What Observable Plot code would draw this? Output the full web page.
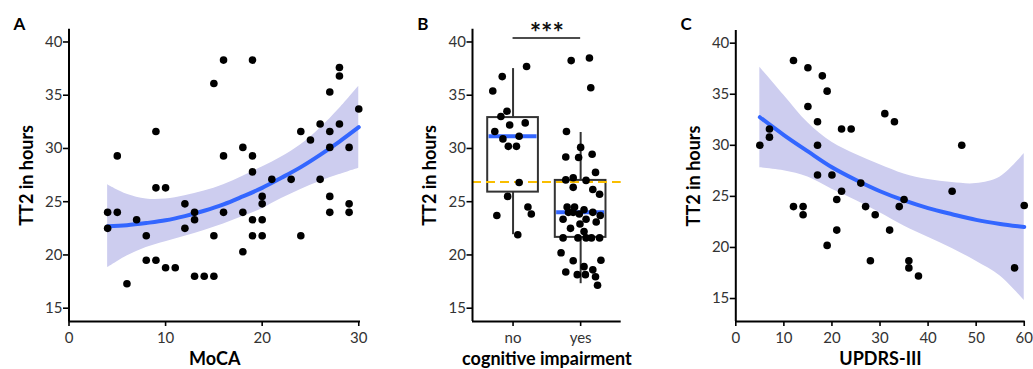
<!DOCTYPE html>
<html><head><meta charset="utf-8">
<script src="https://cdn.jsdelivr.net/npm/d3@7"></script>
<script src="https://cdn.jsdelivr.net/npm/@observablehq/plot@0.6"></script>
<style>
html,body{margin:0;padding:0;background:#fff;}
#wrap{position:relative;width:1033px;height:369px;overflow:hidden;background:#fff;}
#wrap svg{position:absolute;top:0;}
</style></head><body><div id="wrap"></div>
<script>
// ---------- Panel A: MoCA vs TT2 ----------
const mocaScore = [5,9,9,10,15,16,19,16,18,19,19,21,23,24,25,26,26,27,27,27,28,28,28,29,30,
  4,4,5,6,7,8,8,9,10,11,12,12,13,13,13,14,15,15,16,18,18,19,19,20,20,20,20,24,27,27,29,29];
const mocaTT2 = [29.3,31.6,26.3,26.3,36.1,38.3,38.3,29.3,30.1,29.3,27.8,27.1,27.1,31.6,30.8,32.3,27.1,35.3,31.6,30.1,37.6,36.8,32.3,30.1,33.7,
  24.0,22.5,24.0,17.3,23.3,21.8,19.5,19.5,18.8,18.8,24.8,22.5,24.0,23.3,18.0,18.0,18.0,21.8,24.0,24.0,20.3,23.3,21.8,25.5,24.8,23.3,21.8,21.8,25.5,24.0,24.8,24.0];
const fitAx  = [4,6,8,10,12,14,16,18,20,22,24,26,28,30];
const fitAy  = [22.7,22.8,23.0,23.25,23.65,24.15,24.75,25.5,26.3,27.25,28.25,29.4,30.65,32.0];
const fitAlo = [18.8,19.9,20.7,21.25,21.75,22.3,22.9,23.6,24.35,25.3,26.15,26.9,27.55,28.15];
const fitAhi = [26.6,25.7,25.25,25.25,25.55,26.0,26.6,27.4,28.25,29.2,30.35,31.9,33.75,35.85];

// ---------- Panel B: cognitive impairment ----------
const groups = ["no","yes"];
const boxQ1 = [25.9, 21.65];
const boxMed = [31.15, 24.0];
const boxQ3 = [32.9, 27.0];
const whiskLo = [21.9, 17.3];
const whiskHi = [37.5, 31.5];
const refLine = 26.85;
const sigLabel = "***";
const sigY = 40.38;
const noTT2 = [37.7,36.75,35.4,33.5,33.0,32.2,32.4,31.6,30.9,31.15,30.2,30.2,26.8,25.5,24.5,23.85,23.7,21.9];
const noJitter = [0.20,-0.16,-0.30,-0.09,-0.18,-0.05,0.18,-0.27,-0.15,0.09,-0.07,0.05,0.09,-0.08,0.22,0.27,-0.24,0.07];
const yesTT2 = [38.25,38.5,35.7,31.6,30.1,29.2,29.15,29.45,27.75,27.25,27.05,27.0,26.35,26.15,25.7,24.5,24.5,24.25,24.0,24.0,24.0,23.85,23.7,23.35,23.35,23.1,22.9,22.5,22.2,21.6,21.6,21.6,21.6,21.6,20.2,19.45,19.5,18.9,18.4,18.15,18.15,18.6,17.95,17.15];
const yesJitter = [-0.14,0.13,0.15,-0.21,0.00,-0.22,-0.03,0.17,0.22,-0.11,-0.22,0.08,-0.11,0.18,0.28,-0.20,-0.09,0.05,0.18,-0.18,-0.11,-0.02,0.29,-0.26,0.08,0.23,-0.01,-0.15,0.05,-0.26,-0.04,0.08,0.16,0.28,-0.29,-0.11,0.30,0.05,-0.22,-0.05,0.07,0.18,0.22,0.25];

// ---------- Panel C: UPDRS-III vs TT2 ----------
const updrs = [5,7,7,12,15,15,18,19,17,17,17,20,22,24,26,31,33,47,45,22,12,14,14,21,21,19,27,29,28,32,34,35,36,36,38,58,60];
const updrsTT2 = [30.0,31.6,30.8,38.3,37.6,33.8,36.8,35.3,32.3,30.0,27.1,27.1,31.6,31.6,26.3,33.1,32.3,30.0,25.5,25.5,24.0,24.0,23.2,24.7,21.7,20.2,24.0,23.2,18.7,21.7,24.0,24.7,18.7,18.0,17.2,18.0,24.1];
const fitCx  = [5,10,15,20,25,30,35,40,45,50,55,60];
const fitCy  = [32.75,31.0,29.4,27.85,26.6,25.5,24.6,23.85,23.25,22.7,22.3,22.0];
const fitClo = [27.8,27.5,26.9,25.7,24.6,23.4,22.1,21.0,19.9,18.65,17.2,14.8];
const fitChi = [37.65,34.9,32.2,30.3,29.1,28.1,27.2,26.65,26.35,26.25,26.9,29.2];

const FONT = "Lato, 'Open Sans', sans-serif";
const BLUE = "#3366FF";
const BAND = "#cdcdef";
const zip = (...cols) => cols[0].map((_, i) => cols.map(c => c[i]));

function axes(xTicks, yTicks, xmin, ymin, xFmt) {
  return [
    Plot.axisX({ticks: xTicks, tickFormat: xFmt, tickSize: 5, tickPadding: 5.5, fontSize: 15, fill: "#333", stroke: "black", strokeWidth: 1.6, label: null}),
    Plot.axisY({ticks: yTicks, tickSize: 5.5, tickPadding: 1, fontSize: 15, fill: "#333", stroke: "black", strokeWidth: 1.6, label: null}),
    Plot.ruleX([xmin], {stroke: "black", strokeWidth: 2}),
    Plot.ruleY([ymin], {stroke: "black", strokeWidth: 2})
  ];
}
function labels(letter, xlab, mt) {
  return [
    Plot.text([letter], {text: d => d, frameAnchor: "top-left", dx: -49.6, dy: 29.5 - mt, textAnchor: "middle", lineAnchor: "bottom", fontSize: 17, fontWeight: "bold", fill: "black"}),
    Plot.text(["TT2 in hours"], {text: d => d, frameAnchor: "left", dx: -42, rotate: -90, textAnchor: "middle", lineAnchor: "middle", fontSize: 18, fontWeight: "bold", fill: "black"}),
    Plot.text([xlab], {text: d => d, frameAnchor: "bottom", dy: 38, textAnchor: "middle", lineAnchor: "middle", fontSize: 18, fontWeight: "bold", fill: "black"})
  ];
}
const style = {fontFamily: FONT, fontSize: "15px", background: "transparent", overflow: "visible"};

// Panel A
const ptsA = zip(mocaScore, mocaTT2).map(([x, y]) => ({x, y}));
const fitA = zip(fitAx, fitAy, fitAlo, fitAhi).map(([x, y, lo, hi]) => ({x, y, lo, hi}));
const yA = [13.75, 41.2];
const plotA = Plot.plot({
  width: 362, height: 369, marginLeft: 68.5, marginRight: 2, marginTop: 28.7, marginBottom: 48,
  x: {domain: [0, 30.18]}, y: {domain: yA}, style,
  marks: [
    Plot.areaY(fitA, {x: "x", y1: "lo", y2: "hi", fill: BAND, curve: "catmull-rom"}),
    Plot.line(fitA, {x: "x", y: "y", stroke: BLUE, strokeWidth: 4, curve: "catmull-rom"}),
    Plot.dot(ptsA, {x: "x", y: "y", r: 3.8, fill: "black"}),
    ...axes([0,10,20,30], [15,20,25,30,35,40], 0, yA[0]),
    ...labels("A", "MoCA", 28.7)
  ]
});

// Panel B
const boxes = groups.map((g, i) => ({g, pos: i + 1, q1: boxQ1[i], med: boxMed[i], q3: boxQ3[i], lo: whiskLo[i], hi: whiskHi[i]}));
const ptsB = [
  ...noTT2.map((y, i) => ({x: 1 + noJitter[i], y})),
  ...yesTT2.map((y, i) => ({x: 2 + yesJitter[i], y}))
];
const hw = 0.375;
const plotB = Plot.plot({
  width: 245, height: 369, marginLeft: 92, marginRight: 4.3, marginTop: 28.7, marginBottom: 48,
  x: {domain: [0.4, 2.6]}, y: {domain: yA}, style,
  marks: [
    Plot.ruleX(boxes, {x: "pos", y1: "q3", y2: "hi", stroke: "#333", strokeWidth: 2}),
    Plot.ruleX(boxes, {x: "pos", y1: "q1", y2: "lo", stroke: "#333", strokeWidth: 2}),
    Plot.rect(boxes, {x1: d => d.pos - hw, x2: d => d.pos + hw, y1: "q1", y2: "q3", fill: "white", stroke: "#333", strokeWidth: 2}),
    Plot.ruleY(boxes, {y: "med", x1: d => d.pos - hw + 0.02, x2: d => d.pos + hw - 0.02, stroke: BLUE, strokeWidth: 4}),
    Plot.ruleY([refLine], {stroke: "#F9BE00", strokeWidth: 2, strokeDasharray: "9,5"}),
    Plot.dot(ptsB, {x: "x", y: "y", r: 3.8, fill: "black"}),
    Plot.ruleY([sigY], {x1: 1, x2: 2, stroke: "#111", strokeWidth: 1.5}),
    Plot.text([sigLabel], {text: d => d, x: 1.5, y: sigY, dy: 4, lineAnchor: "bottom", fontSize: 27, fontWeight: "bold", fill: "#111"}),
    ...axes([1, 2], [15,20,25,30,35,40], 0.4, yA[0], d => groups[d - 1]),
    ...labels("B", "cognitive impairment", 28.7)
  ]
});

// Panel C
const ptsC = zip(updrs, updrsTT2).map(([x, y]) => ({x, y}));
const fitC = zip(fitCx, fitCy, fitClo, fitChi).map(([x, y, lo, hi]) => ({x, y, lo, hi}));
const yC = [12.75, 41.24];
const plotC = Plot.plot({
  width: 383, height: 369, marginLeft: 85.3, marginRight: 8.3, marginTop: 30, marginBottom: 48,
  x: {domain: [0, 60.2]}, y: {domain: yC}, style,
  marks: [
    Plot.areaY(fitC, {x: "x", y1: "lo", y2: "hi", fill: BAND, curve: "catmull-rom"}),
    Plot.line(fitC, {x: "x", y: "y", stroke: BLUE, strokeWidth: 4, curve: "catmull-rom"}),
    Plot.dot(ptsC, {x: "x", y: "y", r: 3.8, fill: "black"}),
    ...axes([0,10,20,30,40,50,60], [15,20,25,30,35,40], 0, yC[0]),
    ...labels("C", "UPDRS-III", 30)
  ]
});

const wrap = document.getElementById("wrap");
[[plotA, 0], [plotB, 380], [plotC, 650]].forEach(([p, left]) => {
  p.style.left = left + "px";
  wrap.appendChild(p);
});
</script>
</body></html>
